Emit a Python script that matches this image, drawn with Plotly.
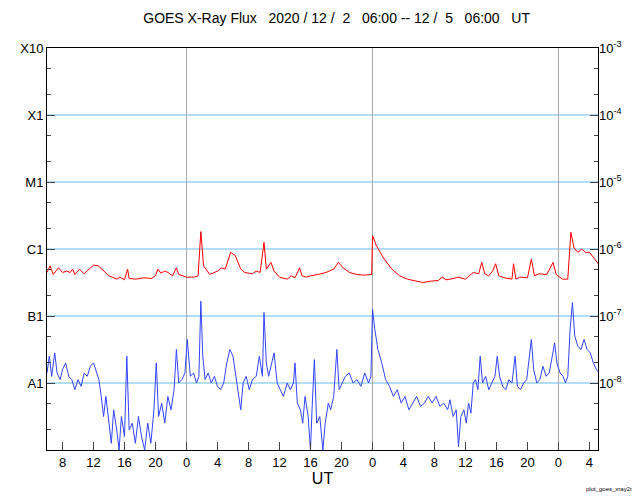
import plotly.graph_objects as go

# hours after 2020-12-02 06:00 UT, log10 flux (W/m^2)
long_t = [0, 0.4, 0.8, 1.5, 2.0, 2.5, 3.0, 3.3, 3.6, 4.2, 4.8, 5.5, 6.0, 6.6, 7.2, 8.0, 9.0, 9.4, 10.0, 10.4,
          10.6, 11.5, 12.5, 13.5, 14.0, 14.3, 14.7, 15.2, 15.6, 16.2, 16.7, 17.0, 18.0, 19.0, 19.5, 19.85, 20.2,
          21.0, 22.0, 22.5, 23.0, 23.7, 24.3, 25.0, 25.5, 26.5, 27.0, 27.5, 28.0, 28.3, 28.9, 29.3, 30.0, 31.0,
          31.5, 32.0, 32.6, 32.9, 33.5, 34.0, 35.0, 36.0, 37.0, 37.6, 38.2, 39.0, 40.0, 41.0, 41.9, 42.0, 42.5,
          43.5, 44.5, 45.5, 46.5, 47.5, 48.5, 49.5, 50.5, 51.0, 51.5, 52.5, 53.0, 54.0, 55.0, 55.7, 56.1, 56.5,
          57.0, 57.5, 57.9, 58.3, 59.0, 60.0, 60.2, 60.5, 61.0, 62.0, 62.5, 62.9, 63.5, 64.5, 65.3, 65.7, 66.5,
          67.2, 67.6, 68.0, 68.5, 69.0, 69.5, 70.0, 71.0, 72.0]
long_log = [-6.35, -6.25, -6.38, -6.28, -6.35, -6.33, -6.35, -6.3, -6.38, -6.3, -6.37, -6.3, -6.24, -6.25, -6.32,
            -6.4, -6.45, -6.42, -6.46, -6.3, -6.44, -6.45, -6.43, -6.44, -6.4, -6.3, -6.36, -6.33, -6.35, -6.4,
            -6.28, -6.38, -6.42, -6.42, -6.4, -5.74, -6.25, -6.38, -6.33, -6.28, -6.3, -6.05, -6.1, -6.3, -6.35,
            -6.37, -6.33, -6.35, -5.9, -6.3, -6.2, -6.33, -6.42, -6.45, -6.4, -6.43, -6.28, -6.4, -6.42, -6.4,
            -6.38, -6.35, -6.3, -6.2, -6.28, -6.35, -6.38, -6.39, -6.38, -5.8, -5.95, -6.15, -6.3, -6.4, -6.45,
            -6.48, -6.5, -6.48, -6.47, -6.42, -6.46, -6.44, -6.42, -6.45, -6.35, -6.37, -6.2, -6.37, -6.4, -6.33,
            -6.22, -6.4, -6.43, -6.45, -6.22, -6.45, -6.42, -6.43, -6.15, -6.4, -6.37, -6.38, -6.2, -6.38, -6.45,
            -6.45, -5.75, -5.98, -6.05, -6.0, -6.05, -6.05, -6.2, -6.35]

short_t = [0, 0.3, 0.6, 1.0, 1.3, 1.7, 2.0, 2.4, 2.8, 3.2, 3.6, 4.0, 4.4, 4.8, 5.2, 5.6, 6.0, 6.3, 6.7, 7.0,
           7.3, 7.6, 8.0, 8.3, 8.6, 9.0, 9.3, 9.6, 10.0, 10.3, 10.6, 11.0, 11.4, 11.8, 12.2, 12.6, 13.0, 13.4,
           13.8, 14.1, 14.4, 14.8, 15.2, 15.6, 16.0, 16.4, 16.7, 17.0, 17.4, 17.8, 18.1, 18.5, 18.9, 19.3, 19.6,
           19.85, 20.1, 20.4, 20.8, 21.2, 21.6, 22.0, 22.4, 22.8, 23.2, 23.6, 24.0, 24.4, 24.8, 25.0, 25.3, 25.7,
           26.1, 26.5, 27.0, 27.4, 27.8, 28.0, 28.3, 28.6, 29.0, 29.3, 29.7, 30.1, 30.5, 31.0, 31.4, 31.8, 32.0,
           32.3, 32.7, 33.0, 33.3, 33.7, 34.0, 34.2, 34.5, 34.8, 35.2, 35.6, 35.9, 36.3, 36.6, 37.0, 37.4, 37.7,
           38.1, 38.5, 39.0, 39.5, 40.0, 40.5, 41.0, 41.5, 41.8, 42.0, 42.3, 42.7, 43.2, 43.7, 44.2, 44.7, 45.2,
           45.7, 46.2, 46.7, 47.2, 47.7, 48.2, 48.7, 49.2, 49.7, 50.2, 50.7, 51.2, 51.7, 52.0, 52.4, 52.8, 53.1,
           53.4, 53.8, 54.1, 54.4, 54.7, 55.0, 55.3, 55.6, 55.9, 56.2, 56.6, 57.0, 57.4, 57.8, 58.1, 58.4, 58.8,
           59.2, 59.6, 60.0, 60.4, 60.7, 61.1, 61.5, 61.9, 62.2, 62.5, 62.8, 63.2, 63.6, 64.0, 64.4, 64.8, 65.2,
           65.5, 65.8, 66.2, 66.6, 66.9, 67.2, 67.5, 67.8, 68.1, 68.5, 68.9, 69.3, 69.7, 70.1, 70.5, 70.9, 71.3,
           71.7, 72.0]
short_log = [-7.85, -7.6, -7.9, -7.55, -7.85, -7.95, -7.8, -7.7, -7.9, -7.95, -8.1, -7.95, -8.05, -7.85, -7.9,
             -7.75, -7.7, -7.8, -7.95, -8.2, -8.5, -8.2, -8.6, -8.9, -8.4, -8.7, -9.0, -8.5, -8.8, -7.6, -8.7,
             -8.6, -8.9, -8.5, -8.8, -9.0, -8.6, -8.9, -8.4, -7.7, -8.5, -8.3, -8.6, -8.2, -8.4, -8.1, -7.5, -8.0,
             -7.95, -7.85, -7.35, -7.9, -7.85, -8.0, -7.9, -6.78, -7.6, -7.95, -7.85, -8.0, -7.9, -8.05, -8.1,
             -8.0, -7.7, -7.5, -7.6, -7.9, -8.2, -8.4, -8.0, -7.9, -8.1, -7.95, -7.9, -7.6, -7.9, -6.95, -7.7,
             -7.9, -7.7, -7.55, -8.0, -8.1, -8.2, -8.0, -8.1, -8.0, -7.7, -8.3, -8.4, -8.6, -8.2, -8.5, -9.0, -8.4,
             -7.65, -8.6, -8.5, -9.0, -8.6, -8.3, -8.4, -8.2, -7.5, -8.1, -8.0, -7.9, -7.85, -8.0, -7.95, -8.05,
             -7.85, -8.0, -7.9, -6.9, -7.2, -7.5, -7.7, -7.95, -8.05, -8.2, -8.1, -8.3, -8.2, -8.4, -8.3, -8.2,
             -8.35, -8.3, -8.2, -8.3, -8.2, -8.35, -8.3, -8.4, -8.25, -8.5, -8.4, -8.95, -8.5, -8.4, -8.6, -8.3,
             -8.45, -8.0, -7.95, -8.1, -7.6, -8.0, -7.9, -8.1, -8.0, -7.9, -7.6, -7.9, -8.05, -8.1, -7.95, -8.0,
             -7.6, -8.05, -8.1, -8.0, -7.95, -7.6, -7.35, -7.8, -8.0, -7.95, -7.75, -7.9, -7.85, -7.6, -7.4, -7.7,
             -7.85, -7.9, -8.0, -7.9, -7.2, -6.8, -7.3, -7.45, -7.5, -7.35, -7.5, -7.55, -7.7, -7.8, -7.85, -7.9,
             -7.95]

hour_ticks = list(range(2, 72, 4))
hour_labels = [str((6 + h) % 24) for h in hour_ticks]
day_lines = [18, 42, 66]
flare_classes = ["X10", "X1", "M1", "C1", "B1", "A1"]
decades = [-3, -4, -5, -6, -7, -8]

fig = go.Figure()
fig.add_trace(go.Scatter(x=long_t, y=[10 ** v for v in long_log], mode="lines",
                         line=dict(color="#ff0000", width=1)))
fig.add_trace(go.Scatter(x=short_t, y=[10 ** v for v in short_log], mode="lines",
                         line=dict(color="#3344ff", width=1)))
fig.add_trace(go.Scatter(x=[0], y=[1e-9], yaxis="y2", mode="markers", marker=dict(opacity=0)))

for d in decades[1:]:
    fig.add_shape(type="line", xref="paper", x0=0, x1=1, y0=10 ** d, y1=10 ** d,
                  line=dict(color="#66bbee", width=1), layer="below")
for h in day_lines:
    fig.add_shape(type="line", yref="paper", x0=h, x1=h, y0=0, y1=1,
                  line=dict(color="#aaaaaa", width=1), layer="below")

fnt = dict(family="Liberation Sans, Arial", size=13, color="black")
fig.update_layout(
    width=632, height=492, showlegend=False,
    plot_bgcolor="white", paper_bgcolor="white", font=fnt,
    margin=dict(l=39, r=42, t=40, b=50, autoexpand=False),
    title=dict(text="GOES X-Ray Flux   2020 / 12 /  2   06:00 -- 12 /  5   06:00   UT",
               x=0.52, y=0.99, xanchor="center", font=dict(size=14)),
    xaxis=dict(range=[0, 71.1], tickvals=hour_ticks, ticktext=hour_labels, ticks="inside",
               ticklen=8, showgrid=False, zeroline=False, showline=True, mirror=True,
               linecolor="black", title=dict(text="UT", standoff=2)),
    yaxis=dict(type="log", range=[-9, -3], tickvals=[10 ** d for d in decades], ticktext=flare_classes,
               ticks="inside", ticklen=8, showgrid=False, showline=True, mirror=True, linecolor="black",
               minor=dict(ticks="inside", ticklen=4, showgrid=False)),
    yaxis2=dict(type="log", range=[-9, -3], overlaying="y", side="right",
                tickvals=[10 ** d for d in decades],
                ticktext=["10<sup>%d</sup>" % d for d in decades],
                ticks="inside", ticklen=8, showgrid=False,
                minor=dict(ticks="inside", ticklen=4)),
    annotations=[dict(text="plot_goes_xray2m", xref="paper", yref="paper", x=1.07, y=-0.085,
                      xanchor="right", yanchor="top", showarrow=False, font=dict(size=6))],
)
fig.write_html("out.html")
